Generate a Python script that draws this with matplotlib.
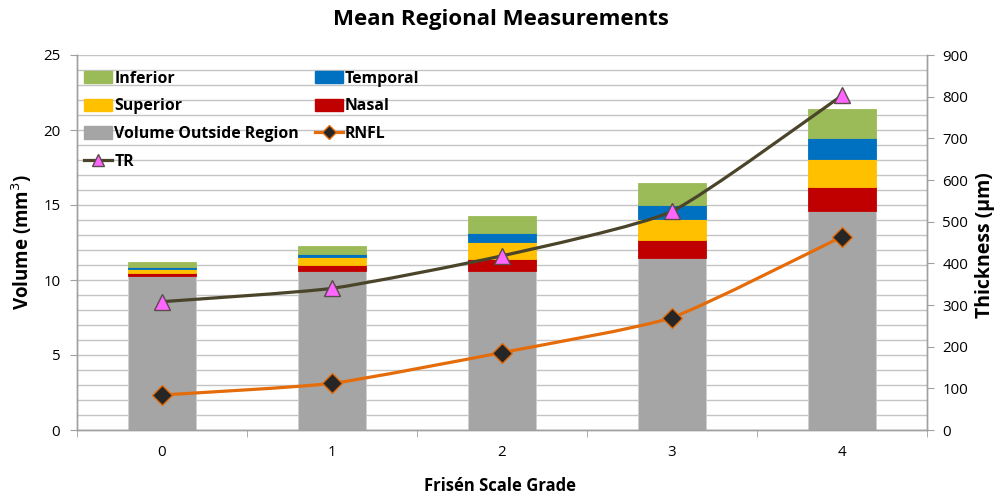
import numpy as np
import matplotlib
matplotlib.use("Agg")
import matplotlib.pyplot as plt
from matplotlib.path import Path
from matplotlib.patches import PathPatch, Patch
from matplotlib.lines import Line2D

plt.rcParams['font.family'] = ['Open Sans', 'DejaVu Sans']

# Frisén grades
grades = [0, 1, 2, 3, 4]

# Stacked regional volumes (mm^3)
volume_outside = [10.28, 10.62, 10.60, 11.49, 14.60]
nasal = [0.22, 0.38, 0.80, 1.18, 1.60]
superior = [0.25, 0.51, 1.11, 1.40, 1.89]
temporal = [0.15, 0.22, 0.62, 0.96, 1.38]
inferior = [0.27, 0.53, 1.16, 1.45, 1.93]

# Thickness (um)
rnfl = [84, 112, 186, 270, 464]
tr = [308, 340, 418, 525, 803]

c_inf = '#9BBB59'
c_temp = '#0070C0'
c_sup = '#FFC000'
c_nas = '#C00000'
c_vol = '#A5A5A5'
c_rnfl = '#E46C0A'
c_tr = '#4A452A'

W, H = 1001, 496
fig = plt.figure(figsize=(W / 100, H / 100), dpi=100)
ax = fig.add_axes([77 / W, 1 - 430 / H, 850 / W, 375 / H])
ax2 = ax.twinx()

x = np.array(grades, dtype=float)
bottom = np.zeros(len(x))
for vals, col in [(volume_outside, c_vol), (nasal, c_nas), (superior, c_sup),
                  (temporal, c_temp), (inferior, c_inf)]:
    ax.bar(x, vals, width=0.4, bottom=bottom, color=col, zorder=2,
           edgecolor='#d0d0d0' if col == c_vol else col, linewidth=0.6)
    bottom += np.array(vals)

ax.set_xlim(-0.5, 4.5)
ax.set_ylim(0, 25)
ax.set_yticks(np.arange(0, 26, 5))
ax.set_yticks(np.arange(0, 26, 1), minor=True)
ax.grid(which='both', axis='y', color='#c4c4c4', linewidth=1, zorder=0)
ax.set_axisbelow(True)
ax.set_xticks(x)
ax.set_xticklabels([str(g) for g in grades])
ax.set_xticks(np.arange(-0.5, 4.6, 1), minor=True)
ax.tick_params(axis='x', which='major', length=0, pad=11, labelsize=10.8)
ax.tick_params(axis='x', which='minor', length=5, color='#a0a0a0')
ax.tick_params(axis='y', which='major', length=5, color='#a0a0a0', labelsize=10.8, pad=7)
ax.tick_params(axis='y', which='minor', length=0)

ax2.set_ylim(0, 900)
ax2.set_yticks(np.arange(0, 901, 100))
ax2.tick_params(axis='y', which='major', length=5, color='#a0a0a0', labelsize=10.8, pad=6)

for a in (ax, ax2):
    a.spines['top'].set_visible(False)
    for s in ('left', 'right', 'bottom'):
        a.spines[s].set_color('#a0a0a0')
        a.spines[s].set_linewidth(1)


def smooth_path(xs, ys, k=0.09):
    pts = np.column_stack([xs, ys]).astype(float)
    n = len(pts)
    verts = [pts[0]]
    codes = [Path.MOVETO]
    for i in range(n - 1):
        p0 = pts[i - 1] if i > 0 else pts[i]
        p1 = pts[i]
        p2 = pts[i + 1]
        p3 = pts[i + 2] if i + 2 < n else pts[i + 1]
        verts += [p1 + (p2 - p0) * k, p2 - (p3 - p1) * k, p2]
        codes += [Path.CURVE4] * 3
    return Path(verts, codes)


ax2.add_patch(PathPatch(smooth_path(x, rnfl), fill=False, edgecolor=c_rnfl,
                        linewidth=2.3, zorder=3))
ax2.plot(x, rnfl, linestyle='none', marker='D', markersize=10,
         markerfacecolor='#262626', markeredgecolor=c_rnfl, markeredgewidth=1, zorder=4)
ax2.add_patch(PathPatch(smooth_path(x, tr), fill=False, edgecolor=c_tr,
                        linewidth=2.3, zorder=3))
ax2.plot(x, tr, linestyle='none', marker='^', markersize=12,
         markerfacecolor='#FF66FF', markeredgecolor='#5a4a4a', markeredgewidth=1, zorder=4)

handles = [
    Patch(color=c_inf, label='Inferior'),
    Patch(color=c_sup, label='Superior'),
    Patch(color=c_vol, label='Volume Outside Region'),
    Line2D([], [], color=c_tr, lw=2.3, marker='^', markersize=9,
           markerfacecolor='#FF66FF', markeredgecolor='#5a4a4a', label='TR'),
    Patch(color=c_temp, label='Temporal'),
    Patch(color=c_nas, label='Nasal'),
    Line2D([], [], color=c_rnfl, lw=2.3, marker='D', markersize=7,
           markerfacecolor='#262626', markeredgecolor=c_rnfl, label='RNFL'),
]
leg = ax2.legend(handles=handles, ncol=2, loc='upper left',
                 bbox_to_anchor=(-0.012, 1.005), frameon=False,
                 prop={'weight': 'bold', 'size': 11.4},
                 handlelength=1.75, handleheight=0.85, handletextpad=0.15,
                 columnspacing=1.0, labelspacing=0.75, borderpad=0.6)

fig.text(501 / W, 1 - 20 / H, 'Mean Regional Measurements', ha='center', va='center',
         fontsize=16, fontweight='bold')
fig.text(500 / W, 1 - 486 / H, 'Frisén Scale Grade', ha='center', va='center',
         fontsize=12, fontweight='bold')
fig.text(22 / W, 1 - 242 / H, 'Volume (mm$^3$)', ha='center', va='center',
         rotation=90, fontsize=13.5, fontweight='bold')
fig.text(985 / W, 1 - 245 / H, 'Thickness (µm)', ha='center', va='center',
         rotation=90, fontsize=14, fontweight='bold')

fig.savefig('out.png', dpi=100)
